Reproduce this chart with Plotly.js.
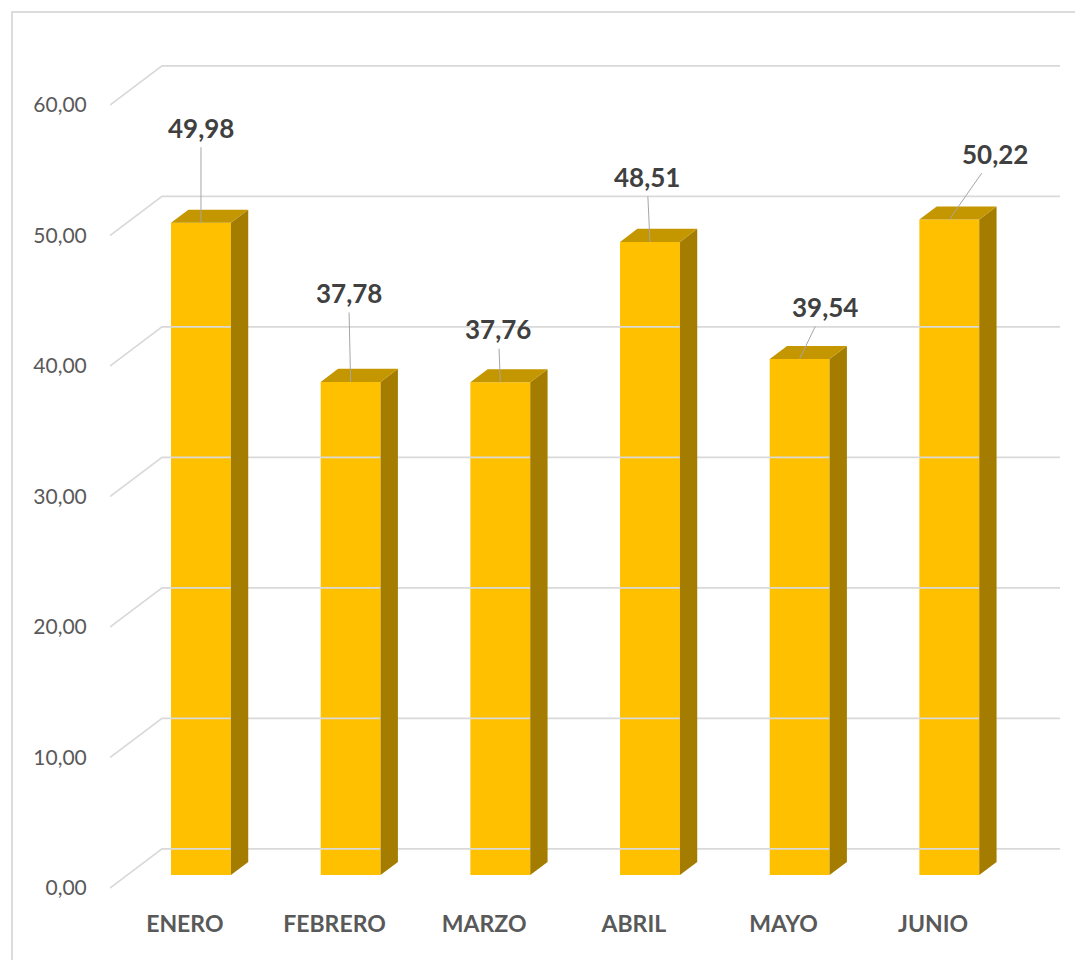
<!DOCTYPE html>
<html>
<head>
<meta charset="utf-8">
<script src="https://cdn.plot.ly/plotly-3.0.1.min.js"></script>
<style>
  html, body { margin: 0; padding: 0; background: #ffffff; }
  #wrap { position: relative; width: 1075px; height: 960px; overflow: hidden; }
  #frame { position: absolute; left: 11px; top: 11px; width: 1100px; height: 1000px;
           border-left: 2px solid #DCDCDC; border-top: 2px solid #DCDCDC; box-sizing: border-box; }
  #chart { position: absolute; left: 0; top: 0; width: 1075px; height: 960px; }
</style>
</head>
<body>
<div id="wrap">
  <div id="frame"></div>
  <div id="chart"></div>
</div>
<script>
// ---- data ----
const months = ["ENERO", "FEBRERO", "MARZO", "ABRIL", "MAYO", "JUNIO"];
const values = [49.98, 37.78, 37.76, 48.51, 39.54, 50.22];
const yTicks = [0, 10, 20, 30, 40, 50, 60];

// ---- pseudo-3D geometry (category units / value units) ----
const DX = 0.3474;   // depth along x
const DY = 3.0;      // depth along y
const BW = 0.4;      // bar width
const FRONT = "#FFC000", SIDE = "#A47C00", TOP = "#C49600";

// label offsets in pixels (text relative to bar top)
const labelOffsets = [[0, -95], [-2, -89], [-2, -53], [-3, -65], [25, -52], [46, -66]];

const n = months.length;
const catX = months.map((m, i) => i + 0.5);
const barX = catX.map(x => x + DX / 3 - 0.008);

// gridlines: back wall + left side wall diagonals
const gx = [], gy = [];
yTicks.forEach(v => {
  gx.push(0, DX, n + DX, null);
  gy.push(v, v + DY, v + DY, null);
});

// side and top faces
const sx = [], sy = [], tx = [], ty = [];
values.forEach((v, i) => {
  const xl = barX[i] - BW / 2, xr = barX[i] + BW / 2;
  const b0 = DY / 3, b1 = 2 * DY / 3;
  sx.push(xr, xr + DX / 3, xr + DX / 3, xr, xr, null);
  sy.push(b0, b1, v + b1, v + b0, b0, null);
  tx.push(xl, xl + DX / 3, xr + DX / 3, xr, xl, null);
  ty.push(v + b0, v + b1, v + b1, v + b0, v + b0, null);
});

const traces = [
  { type: "scatter", mode: "lines", x: gx, y: gy, line: { color: "#D9D9D9", width: 1.6 },
    hoverinfo: "skip", showlegend: false, connectgaps: false },
  { type: "bar", x: barX, y: values, base: DY / 3, width: BW,
    marker: { color: FRONT, line: { width: 0 } }, showlegend: false, hoverinfo: "skip" },
  { type: "scatter", mode: "lines", x: sx, y: sy, fill: "toself", fillcolor: SIDE,
    line: { width: 0, color: SIDE }, showlegend: false, hoverinfo: "skip" },
  { type: "scatter", mode: "lines", x: tx, y: ty, fill: "toself", fillcolor: TOP,
    line: { width: 0, color: TOP }, showlegend: false, hoverinfo: "skip" }
];

const annotations = values.map((v, i) => ({
  x: barX[i], y: v + DY / 3, xref: "x", yref: "y",
  text: v.toFixed(2).replace(".", ","),
  showarrow: true, arrowhead: 0, arrowwidth: 1, arrowcolor: "#A6A6A6",
  ax: labelOffsets[i][0], ay: labelOffsets[i][1], borderpad: 3,
  font: { family: "Lato, 'Open Sans', sans-serif", size: 26, color: "#404040", weight: 700 }
}));

// pixel mapping: y=0 (front) at 888px, 13.05 px per unit
const T = 20, B = 60, PXU = 13.05;
const yTop = (888 - T) / PXU, yBot = (888 - (960 - B)) / PXU;

const layout = {
  width: 1075, height: 960,
  margin: { l: 110, r: 15, t: T, b: B, pad: 0 },
  paper_bgcolor: "rgba(0,0,0,0)", plot_bgcolor: "rgba(0,0,0,0)",
  separators: ",.",
  showlegend: false,
  barmode: "overlay",
  xaxis: {
    range: [0, n + DX], showgrid: false, zeroline: false, showline: false,
    tickmode: "array", tickvals: catX, ticktext: months,
    ticks: "outside", ticklen: 3, tickcolor: "rgba(0,0,0,0)",
    tickfont: { family: "Lato, 'Open Sans', sans-serif", size: 23, color: "#595959", weight: 700 },
    fixedrange: true
  },
  yaxis: {
    range: [yBot, yTop], showgrid: false, zeroline: false, showline: false,
    tickmode: "array", tickvals: yTicks, tickformat: ".2f",
    ticks: "outside", ticklen: 18, tickcolor: "rgba(0,0,0,0)",
    tickfont: { family: "Lato, 'Open Sans', sans-serif", size: 21, color: "#595959" },
    fixedrange: true
  },
  annotations: annotations,
  hovermode: false
};

Plotly.newPlot("chart", traces, layout, { staticPlot: true, displayModeBar: false });
</script>
</body>
</html>
